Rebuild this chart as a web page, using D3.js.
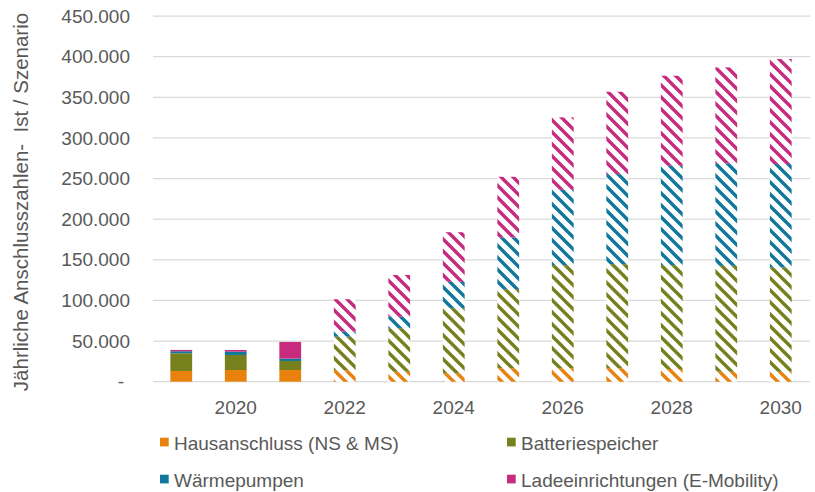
<!DOCTYPE html>
<html>
<head>
<meta charset="utf-8">
<script src="https://cdn.jsdelivr.net/npm/d3@7"></script>
<style>
  html, body { margin: 0; padding: 0; background: #fff; }
  svg { display: block; font-family: "Liberation Sans", Arial, sans-serif; }
</style>
</head>
<body>
<svg id="chart" width="815" height="492"></svg>
<script>
// ---- data ----
const years = ["2019","2020","2021","2022","2023","2024","2025","2026","2027","2028","2029","2030"];
const seriesNames = ["Hausanschluss (NS & MS)", "Batteriespeicher", "Wärmepumpen", "Ladeeinrichtungen (E-Mobility)"];
const hausanschluss = [13200, 14400, 14400, 14000, 12300, 10300, 16500, 16500, 16500, 15600, 12300, 12300];
const batteriespeicher = [21800, 18500, 11100, 41400, 53500, 80100, 97400, 127000, 128200, 127900, 130300, 128300];
const waermepumpen = [2500, 4100, 2900, 6200, 14200, 32600, 63700, 92700, 110800, 122300, 126100, 127300];
const ladeeinrichtungen = [1600, 2000, 20500, 39900, 51400, 61000, 74600, 89200, 101400, 110800, 118200, 129300];
const hatched = [false, false, false, true, true, true, true, true, true, true, true, true];
const yTicks = [0, 50000, 100000, 150000, 200000, 250000, 300000, 350000, 400000, 450000];
const xTickLabels = ["2020","2022","2024","2026","2028","2030"];
const yTitle = "Jährliche Anschlusszahlen-  Ist / Szenario";

// ---- styles ----
const colors = ["#E8820C", "#76811E", "#11789C", "#C62B7E"];
const textColor = "#595959";
const fontSize = 19;

const svg = d3.select("#chart");
const keys = ["h", "b", "w", "l"];
const table = years.map((y, i) => ({
  year: y, hatched: hatched[i],
  h: hausanschluss[i], b: batteriespeicher[i], w: waermepumpen[i], l: ladeeinrichtungen[i]
}));
const stacked = d3.stack().keys(keys)(table);

const x = d3.scaleBand().domain(years).range([154, 808]).paddingInner(0.6).paddingOuter(0.3);
const y = d3.scaleLinear().domain([0, 450000]).range([381.7, 16.1]);

// patterns
const defs = svg.append("defs");
colors.forEach((c, i) => {
  const p = defs.append("pattern")
    .attr("id", "hatch" + i)
    .attr("patternUnits", "userSpaceOnUse")
    .attr("width", 12).attr("height", 12);
  p.append("rect").attr("width", 12).attr("height", 12).attr("fill", "#fff");
  p.append("path")
    .attr("d", "M-3,-3 L15,15 M9,-3 L27,15 M-15,-3 L3,15")
    .attr("stroke", c).attr("stroke-width", 3.4).attr("fill", "none");
});

// gridlines
svg.append("g").selectAll("line").data(yTicks).join("line")
  .attr("x1", 153).attr("x2", 810)
  .attr("y1", d => y(d)).attr("y2", d => y(d))
  .attr("stroke", "#D9D9D9").attr("stroke-width", 1.3);

// y axis labels
const fmt = d3.formatLocale({ decimal: ",", thousands: ".", grouping: [3], currency: ["", "€"] }).format(",.0f");
svg.append("g").selectAll("text").data(yTicks).join("text")
  .attr("x", d => d === 0 ? 124 : 130)
  .attr("y", d => y(d))
  .attr("dy", "0.35em")
  .attr("text-anchor", "end")
  .attr("fill", textColor).attr("font-size", fontSize)
  .text(d => d === 0 ? "-" : fmt(d));

// x axis labels
svg.append("g").selectAll("text").data(xTickLabels).join("text")
  .attr("x", d => x(d) + x.bandwidth() / 2)
  .attr("y", 407)
  .attr("dy", "0.35em")
  .attr("text-anchor", "middle")
  .attr("fill", textColor).attr("font-size", fontSize)
  .text(d => d);

// y title
svg.append("text")
  .attr("transform", "translate(21,202) rotate(-90)")
  .attr("text-anchor", "middle")
  .attr("dy", "0.35em")
  .attr("fill", textColor).attr("font-size", 20.5)
  .style("white-space", "pre")
  .text(yTitle);

// bars
stacked.forEach((layer, si) => {
  svg.append("g").selectAll("rect").data(layer).join("rect")
    .attr("x", d => x(d.data.year))
    .attr("width", x.bandwidth())
    .attr("y", d => y(d[1]))
    .attr("height", d => y(d[0]) - y(d[1]))
    .attr("fill", d => d.data.hatched ? `url(#hatch${si})` : colors[si]);
});

// legend (baselines)
const legendPos = [[160, 450], [507, 450], [160, 487], [507, 487]];
const lg = svg.append("g").selectAll("g").data(seriesNames).join("g")
  .attr("transform", (d, i) => `translate(${legendPos[i][0]},${legendPos[i][1]})`);
lg.append("rect").attr("x", 0).attr("y", -12.3).attr("width", 8.7).attr("height", 8.7)
  .attr("fill", (d, i) => colors[i]);
lg.append("text").attr("x", 14)
  .attr("fill", textColor).attr("font-size", fontSize)
  .text(d => d);
</script>
</body>
</html>
